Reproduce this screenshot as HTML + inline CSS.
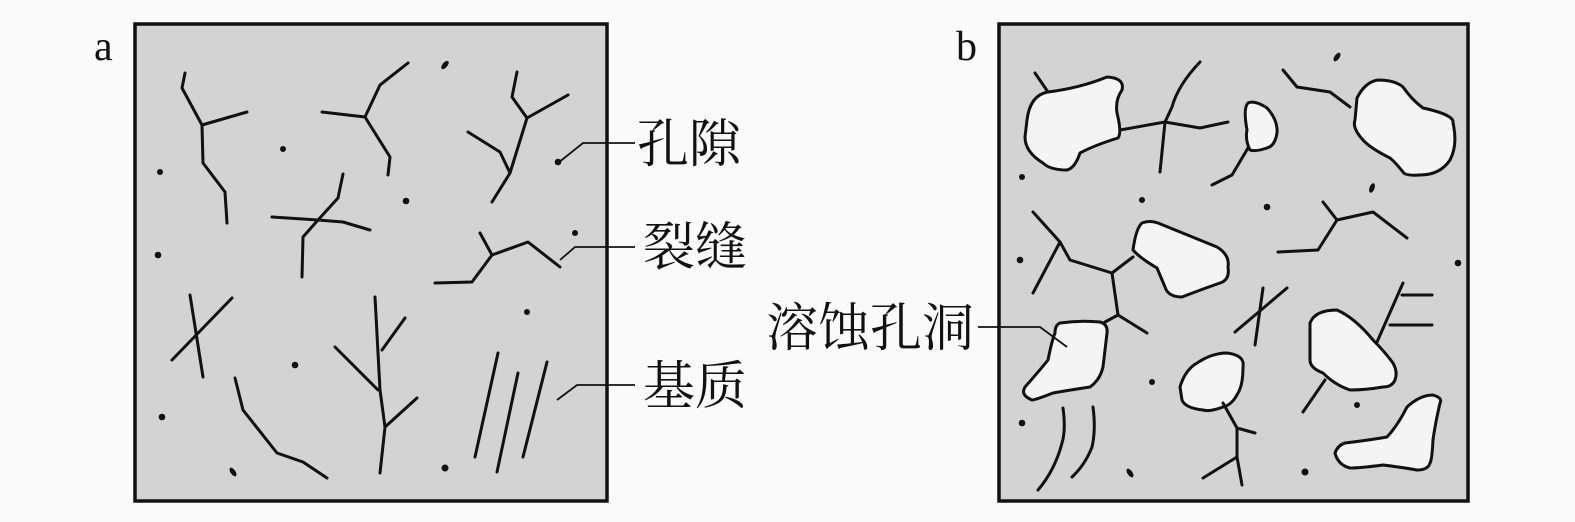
<!DOCTYPE html>
<html><head><meta charset="utf-8"><style>
html,body{margin:0;padding:0;background:#fafafa;}
svg{display:block}
text{font-family:"Liberation Serif","Noto Serif CJK SC",serif;fill:#111}
</style></head><body>
<svg width="1575" height="522" viewBox="0 0 1575 522" xmlns="http://www.w3.org/2000/svg">
<rect x="0" y="0" width="1575" height="522" fill="#fafafa"/>
<rect x="135" y="24" width="472" height="477" fill="#d3d3d3" stroke="#111" stroke-width="3.5"/>
<rect x="999" y="24" width="469" height="477" fill="#d3d3d3" stroke="#111" stroke-width="3.5"/>
<text x="94" y="60" font-size="42">a</text>
<text x="956" y="60" font-size="42">b</text>
<g font-size="52">
<text x="637" y="162">孔隙</text>
<text x="643" y="265">裂缝</text>
<text x="643" y="404">基质</text>
<text x="766" y="346">溶蚀孔洞</text>
</g>
<g fill="none" stroke="#111" stroke-width="3" stroke-linejoin="round" stroke-linecap="round">
<polyline points="185,73 182,88 202,125 203,163 225,192 227,223"/><polyline points="202,125 247,112"/>
<polyline points="322,112 365,117 380,85 408,63"/><polyline points="365,117 390,157 388,175"/>
<polyline points="517,72 512,97 527,118 568,95"/><polyline points="527,118 510,173 492,202"/><polyline points="510,173 500,152 468,132"/>
<polyline points="272,217 318,220 343,222 370,230"/><polyline points="343,174 338,198 318,220 303,237 302,277"/>
<polyline points="435,283 472,282 492,255 480,233"/><polyline points="492,255 528,242 560,267"/>
<polyline points="190,295 203,377"/><polyline points="172,360 232,298"/>
<polyline points="235,378 243,410 277,453 303,462 327,478"/>
<polyline points="375,297 380,390 385,427 380,473"/><polyline points="382,350 405,318"/><polyline points="378,390 335,347"/><polyline points="385,427 417,398"/>
<polyline points="475,457 498,353"/><polyline points="497,472 518,373"/><polyline points="523,457 547,362"/>
<path d="M1027,120 Q1030,95 1048,92 Q1080,88 1107,77 Q1125,78 1122,90 Q1115,100 1117,113 Q1122,133 1118,138 Q1095,145 1080,153 Q1075,168 1067,170 Q1050,170 1043,163 Q1025,152 1025,137 Z" fill="#f4f4f4"/>
<polyline points="1048,92 1035,73"/>
<polyline points="1120,130 1165,122 1200,128 1228,122"/>
<path d="M1200,62 Q1178,85 1172,107 Q1166,120 1165,122 L1160,172"/>
<path d="M1248,103 Q1255,100 1267,108 Q1278,120 1277,133 Q1275,146 1267,148 Q1255,152 1250,150 Q1245,140 1247,130 Q1243,108 1248,103 Z" fill="#f4f4f4"/>
<polyline points="1248,148 1232,175 1212,185"/>
<path d="M1357,98 Q1365,82 1378,80 Q1395,80 1403,87 Q1412,100 1423,108 Q1455,115 1453,123 Q1458,145 1450,160 Q1440,175 1420,175 Q1405,176 1403,172 Q1395,162 1390,158 Q1370,148 1363,140 Q1352,128 1355,120 Z" fill="#f4f4f4"/>
<polyline points="1350,107 1330,92 1297,87 1283,70"/>
<path d="M1133,250 Q1136,228 1142,223 Q1150,220 1158,223 Q1200,240 1217,247 Q1230,255 1228,267 Q1230,280 1220,283 Q1200,290 1182,297 Q1168,297 1165,287 Q1160,275 1157,268 Q1140,258 1133,250 Z" fill="#f4f4f4"/>
<polyline points="1033,212 1060,242 1070,260 1112,273 1133,257"/><polyline points="1060,242 1033,293"/>
<polyline points="1112,273 1118,315 1105,322"/><polyline points="1118,315 1147,333"/>
<path d="M1060,323 Q1080,320 1100,322 Q1108,324 1107,333 Q1105,350 1103,367 Q1100,380 1090,387 Q1070,390 1053,393 Q1035,400 1032,400 Q1020,395 1025,387 Q1040,370 1048,360 Q1052,340 1055,333 Q1055,325 1060,323 Z" fill="#f4f4f4"/>
<polyline points="1263,288 1255,345"/><polyline points="1235,332 1287,288"/>
<polyline points="1278,252 1318,250 1337,220 1373,212 1407,238"/><polyline points="1337,220 1323,202"/>
<path d="M1180,387 Q1185,370 1197,363 Q1212,353 1227,353 Q1245,355 1243,367 Q1243,385 1238,393 Q1232,405 1223,407 Q1210,412 1203,410 Q1185,408 1182,400 Z" fill="#f4f4f4"/>
<polyline points="1223,403 1237,428 1255,433"/><polyline points="1237,428 1237,457 1203,478"/><polyline points="1237,457 1242,485"/>
<path d="M1310,323 Q1315,310 1337,310 Q1355,318 1373,340 Q1385,352 1393,363 Q1398,372 1395,380 Q1392,387 1383,387 Q1365,390 1350,390 Q1335,385 1323,373 Q1310,368 1310,360 Z" fill="#f4f4f4"/>
<polyline points="1377,342 1403,283"/><polyline points="1402,295 1432,295"/><polyline points="1390,325 1432,325"/><polyline points="1325,380 1303,412"/>
<path d="M1335,453 Q1338,445 1345,443 Q1370,440 1387,437 Q1398,425 1407,407 Q1420,395 1433,395 Q1443,398 1440,403 Q1435,425 1433,440 Q1432,460 1430,463 Q1428,470 1417,470 Q1400,467 1383,465 Q1360,468 1350,468 Q1338,465 1335,453 Z" fill="#f4f4f4"/>
<path d="M1063,408 Q1066,430 1062,443 Q1055,470 1038,490"/>
<path d="M1093,407 Q1096,430 1092,447 Q1085,465 1072,477"/>
</g>
<g fill="none" stroke="#111" stroke-width="1.8">
<polyline points="558,163 583,143 635,143"/>
<polyline points="560,260 575,247 635,247"/>
<polyline points="557,400 577,385 635,385"/>
<polyline points="978,327 1040,327 1067,347"/>
</g>
<g fill="#111">
<circle cx="283" cy="149" r="3"/><circle cx="160" cy="172" r="3"/><circle cx="406" cy="201" r="3.3"/>
<circle cx="158" cy="255" r="3.3"/><circle cx="575" cy="233" r="3"/><circle cx="527" cy="312" r="3"/>
<circle cx="295" cy="365" r="3.3"/><circle cx="162" cy="417" r="3.3"/><ellipse cx="233" cy="472" rx="2.5" ry="5" transform="rotate(-35 233 472)"/>
<circle cx="445" cy="468" r="3.5"/><ellipse cx="445" cy="65" rx="2.5" ry="5" transform="rotate(40 445 65)"/><circle cx="558" cy="162" r="3.3"/>
<circle cx="1022" cy="177" r="3"/><circle cx="1142" cy="200" r="3"/><circle cx="1267" cy="207" r="3.3"/>
<ellipse cx="1372" cy="188" rx="2.5" ry="5" transform="rotate(20 1372 188)"/><ellipse cx="1337" cy="57" rx="2.5" ry="5" transform="rotate(35 1337 57)"/>
<circle cx="1020" cy="260" r="3.3"/><circle cx="1458" cy="263" r="3.3"/><circle cx="1152" cy="382" r="3"/>
<circle cx="1357" cy="405" r="3"/><circle cx="1022" cy="423" r="3.3"/><ellipse cx="1130" cy="473" rx="2.5" ry="5" transform="rotate(-35 1130 473)"/>
<circle cx="1305" cy="472" r="3.5"/>
</g>
</svg>
</body></html>
